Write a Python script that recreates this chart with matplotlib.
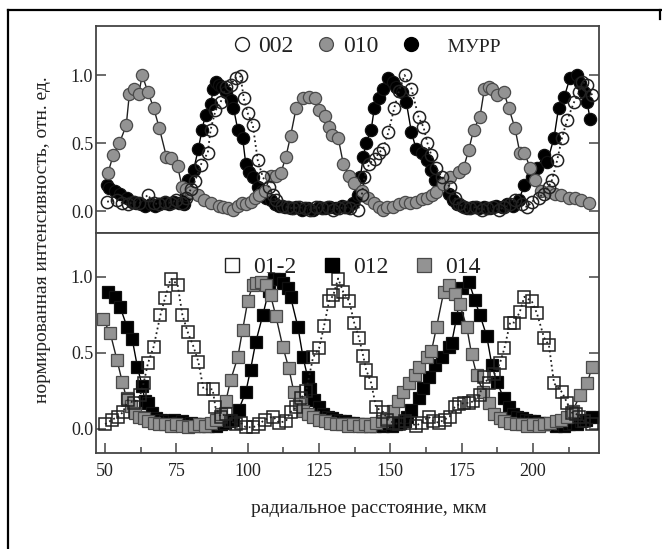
#!/usr/bin/env python3
"""Normalized intensity profiles vs radial distance (two stacked panels)."""
import matplotlib

matplotlib.use("Agg")
import matplotlib.pyplot as plt
from matplotlib.lines import Line2D
from matplotlib.ticker import MultipleLocator

plt.rcParams["font.family"] = ["Liberation Serif", "DejaVu Serif"]

# ---- top panel: 002 (open circles), 010 (grey circles), МУРР (black circles)
X_010 = [51, 52.8, 55, 57.4, 58.5, 60.2, 61.8, 63, 65, 67, 69, 71.5, 73, 75.4, 77, 78.5,
         80, 82.4, 84.5, 87, 89.8, 91.5, 93, 95, 96.5, 98, 99.5, 101, 102.5, 104, 106,
         108, 110, 111.6, 113.4, 115, 117, 119.4, 121.5, 123.6, 125, 127, 128.5, 129.5,
         131.7, 133.5, 135.6, 137.3, 140, 142, 144.4, 146, 147.5, 149, 151, 153, 155,
         157, 159, 161, 163, 164.5, 166, 168.6, 170.8, 174, 175.7, 177.5, 179.2, 181.4,
         183, 184.6, 185.6, 187.3, 189.8, 191.5, 193.7, 195.4, 197, 199, 200.7, 203,
         205.6, 207.7, 210, 212.7, 214.8, 217, 219.7]
Y_010 = [0.28, 0.41, 0.50, 0.63, 0.86, 0.90, 0.86, 1.00, 0.875, 0.76, 0.61, 0.40, 0.39,
         0.33, 0.18, 0.16, 0.14, 0.12, 0.08, 0.06, 0.04, 0.03, 0.02, 0.01, 0.04, 0.06,
         0.05, 0.07, 0.10, 0.12, 0.15, 0.26, 0.26, 0.28, 0.40, 0.55, 0.76, 0.83, 0.84,
         0.83, 0.74, 0.70, 0.62, 0.56, 0.54, 0.35, 0.26, 0.21, 0.15, 0.10, 0.06, 0.03,
         0.01, 0.03, 0.03, 0.05, 0.07, 0.06, 0.07, 0.09, 0.10, 0.12, 0.14, 0.20, 0.25,
         0.29, 0.32, 0.45, 0.60, 0.69, 0.90, 0.91, 0.90, 0.85, 0.875, 0.76, 0.61, 0.43,
         0.43, 0.32, 0.23, 0.15, 0.14, 0.13, 0.12, 0.10, 0.095, 0.08, 0.06]

X_MURR = [50.5, 51.5, 53.5, 55.3, 57.7, 59.5, 61, 62.5, 64, 66, 67.5, 69, 71, 72.5, 74, 76,
          77.5, 78.3, 79.2, 81, 82.7, 84, 85.2, 87, 88, 89, 90, 91, 92.3, 94, 95, 96.5,
          98.2, 99.3, 100.4, 102, 103.5, 105, 106.5, 108, 109.5, 111, 113, 115, 117, 119,
          121, 123, 125, 127, 129, 131, 133, 135, 137, 138.5, 139.5, 140.5, 141.5, 143.3,
          144.4, 146, 147.5, 149.3, 151, 152, 154, 155.6, 157.4, 159, 161, 162.7, 164.4,
          165.5, 168, 170.4, 172, 173.5, 175, 177, 179, 181, 183, 185, 187, 189, 191, 193,
          195, 197, 199.6, 201.4, 203.9, 205, 207.4, 209, 211, 213, 215.5, 216.5, 218,
          219, 220]
Y_MURR = [0.19, 0.17, 0.15, 0.13, 0.10, 0.07, 0.06, 0.05, 0.04, 0.05, 0.04, 0.05, 0.06,
          0.05, 0.07, 0.06, 0.05, 0.12, 0.23, 0.30, 0.46, 0.60, 0.71, 0.79, 0.90, 0.95,
          0.93, 0.91, 0.875, 0.82, 0.76, 0.60, 0.54, 0.35, 0.29, 0.25, 0.18, 0.15, 0.10,
          0.08, 0.05, 0.04, 0.03, 0.02, 0.03, 0.01, 0.02, 0.01, 0.03, 0.02, 0.03, 0.02,
          0.04, 0.03, 0.06, 0.12, 0.25, 0.40, 0.50, 0.60, 0.76, 0.83, 0.90, 0.98, 0.95,
          0.91, 0.875, 0.80, 0.58, 0.46, 0.43, 0.375, 0.30, 0.23, 0.21, 0.13, 0.08, 0.05,
          0.04, 0.02, 0.03, 0.02, 0.03, 0.02, 0.04, 0.03, 0.05, 0.04, 0.08, 0.19, 0.25,
          0.32, 0.41, 0.36, 0.54, 0.76, 0.84, 0.98, 1.00, 0.94, 0.875, 0.80, 0.68]

X_002 = [50.7, 54, 56, 58, 60, 62, 65, 67, 69, 71, 73, 75, 77, 78.5, 80, 81.5, 83.5, 86,
         87, 88.7, 90.5, 92.3, 94, 95.8, 97.5, 98.6, 100, 101.8, 103.5, 105.3, 107.4,
         108.7, 110, 112, 114, 116, 118, 120, 122, 124, 126, 128, 130, 132, 134, 136,
         138.7, 140, 140.9, 142.6, 144.5, 146, 147.5, 149.3, 151.4, 153, 155, 157.4,
         159.9, 161.6, 163, 164.4, 166, 168, 170.8, 172.5, 174, 176, 178, 180, 182, 184,
         186, 188, 190, 192, 193.7, 196, 198, 199.6, 202, 203.9, 205.5, 206.7, 208.5,
         210.2, 212, 214.4, 216.2, 217.3, 219, 220.8]
Y_002 = [0.07, 0.08, 0.06, 0.05, 0.07, 0.06, 0.12, 0.06, 0.05, 0.07, 0.06, 0.08, 0.06,
         0.10, 0.16, 0.22, 0.34, 0.43, 0.60, 0.74, 0.80, 0.91, 0.93, 0.98, 0.99, 0.83,
         0.72, 0.63, 0.375, 0.25, 0.18, 0.12, 0.08, 0.04, 0.03, 0.02, 0.03, 0.02, 0.01,
         0.03, 0.02, 0.03, 0.01, 0.02, 0.03, 0.02, 0.01, 0.12, 0.25, 0.35, 0.38, 0.43,
         0.46, 0.58, 0.76, 0.88, 1.00, 0.90, 0.69, 0.62, 0.50, 0.41, 0.32, 0.25, 0.18,
         0.10, 0.05, 0.03, 0.02, 0.03, 0.01, 0.02, 0.03, 0.01, 0.03, 0.05, 0.08, 0.05,
         0.03, 0.07, 0.10, 0.13, 0.18, 0.23, 0.375, 0.54, 0.67, 0.80, 0.875, 0.95, 0.93,
         0.85]

# ---- bottom panel: 01-2 (open squares), 012 (black squares), 014 (grey squares)
X_01M2 = [50, 52.5, 54.6, 56.3, 58, 60, 62.3, 63.5, 65, 67, 69.4, 71, 73, 75.4, 77.1,
          78.9, 81, 82.7, 84.5, 87.7, 88.7, 90.5, 92.5, 94, 96, 97.5, 99.3, 102, 104, 106,
          108.8, 111, 113.4, 115, 117, 118.7, 120.5, 122.9, 125, 126.8, 128.5, 130, 131.7,
          133.5, 135.6, 137.3, 139, 140.5, 141.5, 143.3, 145, 147.5, 149, 151, 153, 155,
          157, 159, 161, 163.4, 165, 167, 169, 170.8, 172.5, 174, 176, 177.5, 179, 181.4,
          182.7, 184.5, 186.5, 188.4, 190, 192, 193.5, 195.4, 197, 199.6, 201.4, 203.9,
          205.6, 207.4, 210.2, 212, 213.7, 215, 216.2, 218, 220.8]
Y_01M2 = [0.03, 0.06, 0.08, 0.11, 0.19, 0.17, 0.22, 0.30, 0.43, 0.54, 0.75, 0.86, 0.99,
          0.95, 0.75, 0.64, 0.54, 0.44, 0.26, 0.26, 0.14, 0.08, 0.10, 0.05, 0.03, 0.04,
          0.01, 0.01, 0.03, 0.06, 0.08, 0.04, 0.05, 0.11, 0.14, 0.20, 0.25, 0.47, 0.53,
          0.68, 0.84, 0.88, 0.99, 0.90, 0.84, 0.70, 0.60, 0.48, 0.39, 0.30, 0.14, 0.11,
          0.06, 0.04, 0.03, 0.05, 0.04, 0.02, 0.04, 0.08, 0.05, 0.04, 0.06, 0.08, 0.14,
          0.16, 0.17, 0.17, 0.18, 0.22, 0.34, 0.30, 0.36, 0.43, 0.53, 0.70, 0.70, 0.77,
          0.87, 0.84, 0.76, 0.60, 0.55, 0.30, 0.24, 0.17, 0.105, 0.10, 0.08, 0.05, 0.03]

X_012 = [51, 53.5, 55.3, 57.7, 59.5, 61.3, 63, 64, 65, 66.5, 68, 69.5, 71, 72.5, 74, 75.5,
         77, 78.5, 80, 81.5, 83, 84.5, 86, 87.5, 89, 90.5, 92, 93.5, 95, 96.8, 99.3, 101,
         102.8, 105.3, 107.4, 109.2, 111, 112.5, 114, 115, 117.6, 119.4, 121, 122, 123.2,
         125, 126.5, 128, 129.5, 131, 132.5, 134, 135.5, 137, 138.5, 140, 141.5, 143,
         144.5, 146, 147.5, 149, 150.5, 152, 153.5, 155, 156, 157.4, 159.9, 161.6, 163.7,
         165.5, 168, 170.4, 171.5, 173.2, 175, 177.5, 179.6, 181.4, 183.8, 185.6, 187.3,
         189.8, 191.5, 193, 194.5, 196, 197.5, 199, 200.5, 202, 203.5, 205, 206.5, 208,
         209.5, 211, 212.5, 214, 215.5, 217, 218.5, 220.8]
Y_012 = [0.90, 0.87, 0.80, 0.67, 0.59, 0.41, 0.28, 0.18, 0.17, 0.105, 0.07, 0.06, 0.05,
         0.05, 0.06, 0.04, 0.05, 0.03, 0.04, 0.03, 0.02, 0.03, 0.02, 0.03, 0.02, 0.03,
         0.04, 0.05, 0.06, 0.125, 0.24, 0.39, 0.57, 0.75, 0.91, 0.99, 0.99, 0.96, 0.93,
         0.87, 0.67, 0.47, 0.34, 0.26, 0.19, 0.14, 0.10, 0.08, 0.07, 0.06, 0.05, 0.05,
         0.04, 0.04, 0.03, 0.02, 0.03, 0.02, 0.02, 0.03, 0.02, 0.03, 0.02, 0.03, 0.04,
         0.05, 0.08, 0.125, 0.20, 0.27, 0.34, 0.42, 0.47, 0.54, 0.565, 0.73, 0.93, 0.97,
         0.85, 0.75, 0.61, 0.42, 0.31, 0.20, 0.14, 0.10, 0.08, 0.07, 0.06, 0.05, 0.05,
         0.04, 0.04, 0.03, 0.03, 0.02, 0.03, 0.02, 0.03, 0.04, 0.03, 0.05, 0.06, 0.08]

X_014 = [49.3, 51.8, 54.2, 56, 57.5, 59, 60.6, 62, 63.5, 65, 67, 69, 71, 73, 75, 77, 79,
         81, 83, 85, 87, 89, 90.5, 92.3, 94, 96.5, 98.2, 100, 101.8, 103, 104.6, 106.3,
         108, 109.9, 112.3, 114.4, 116.2, 118, 119.5, 121, 123, 125, 127, 129, 131, 133,
         135, 137, 139, 141, 143, 145, 147, 149, 151, 152.8, 154.6, 156.7, 158.5, 160.2,
         162.7, 164.4, 166.2, 168.7, 170.4, 172.5, 174.3, 176.8, 178.5, 180.3, 182.5,
         184.5, 186.5, 188.4, 190, 192, 194, 196, 198, 200, 202, 204, 206, 208, 210, 212,
         214, 216.5, 219, 220.8]
Y_014 = [0.72, 0.63, 0.45, 0.31, 0.20, 0.15, 0.105, 0.08, 0.07, 0.05, 0.04, 0.03, 0.03,
         0.02, 0.03, 0.02, 0.01, 0.02, 0.03, 0.02, 0.04, 0.06, 0.10, 0.18, 0.32, 0.47,
         0.65, 0.84, 0.95, 0.96, 0.97, 0.95, 0.88, 0.74, 0.54, 0.40, 0.24, 0.16, 0.12,
         0.10, 0.08, 0.06, 0.05, 0.04, 0.03, 0.03, 0.02, 0.03, 0.02, 0.03, 0.02, 0.04,
         0.05, 0.07, 0.12, 0.18, 0.24, 0.30, 0.355, 0.41, 0.47, 0.51, 0.67, 0.90, 0.95,
         0.89, 0.82, 0.67, 0.49, 0.355, 0.24, 0.17, 0.10, 0.07, 0.05, 0.04, 0.03, 0.03,
         0.02, 0.03, 0.02, 0.03, 0.04, 0.05, 0.06, 0.08, 0.12, 0.22, 0.30, 0.41]

X_TICKS = [50, 75, 100, 125, 150, 175, 200]
Y_TICKS = [0.0, 0.5, 1.0]

TXT = "#222222"
SPINE = "#444444"
GREY = "#939393"


def style_axes(ax, show_x):
    ax.set_xlim(46.8, 223.2)
    ax.set_yticks(Y_TICKS)
    ax.set_yticklabels([f"{v:.1f}" for v in Y_TICKS])
    ax.tick_params(axis="y", which="both", direction="in", left=True, right=True,
                   length=7, width=1.1, color=SPINE, labelsize=13, labelcolor=TXT, pad=2)
    if show_x:
        ax.set_xticks(X_TICKS)
        ax.xaxis.set_minor_locator(MultipleLocator(12.5))
        ax.tick_params(axis="x", which="major", direction="in", length=7, width=1.1,
                       color=SPINE, labelsize=13, labelcolor=TXT, pad=7,
                       top=False, bottom=True)
        ax.tick_params(axis="x", which="minor", direction="in", length=4, width=1.1,
                       color=SPINE, top=False, bottom=True)
    else:
        ax.tick_params(axis="x", which="both", bottom=False, top=False,
                       labelbottom=False)
    for s in ax.spines.values():
        s.set_color(SPINE)
        s.set_linewidth(1.3)


def plot_top(ax):
    ms = 8.8
    ax.plot(X_MURR, Y_MURR, "-", color="black", lw=1.0, marker="o", ms=ms,
            mfc="black", mec="#111111", mew=0.9, zorder=3)
    ax.plot(X_010, Y_010, "-", color="#222222", lw=1.0, marker="o", ms=ms,
            mfc=GREY, mec="#4a4a4a", mew=0.9, zorder=4)
    ax.plot(X_002, Y_002, ":", color="#222222", lw=1.3, marker="o", ms=ms,
            mfc="none", mec="#222222", mew=1.1, zorder=5)
    ax.set_ylim(-0.16, 1.36)

    handles = [
        Line2D([], [], ls="none", marker="o", ms=10, mfc="white", mec="#222222", mew=1.0),
        Line2D([], [], ls="none", marker="o", ms=10, mfc=GREY, mec="#4a4a4a", mew=0.9),
        Line2D([], [], ls="none", marker="o", ms=10, mfc="black", mec="black"),
    ]
    leg = ax.legend(handles, ["002", "010", "    МУРР"], loc="center",
                    bbox_to_anchor=(0.535, 0.90), ncol=3, frameon=False,
                    fontsize=17, handletextpad=0.2, columnspacing=0.9,
                    handlelength=1.0, borderaxespad=0)
    for t in leg.get_texts():
        t.set_color(TXT)
    leg.get_texts()[2].set_fontsize(14)


def plot_bottom(ax):
    ms = 9.2
    ax.plot(X_012, Y_012, "-", color="black", lw=1.0, marker="s", ms=ms,
            mfc="black", mec="#111111", mew=0.9, zorder=3)
    ax.plot(X_014, Y_014, "-", color="#222222", lw=1.0, marker="s", ms=ms,
            mfc=GREY, mec="#4a4a4a", mew=0.9, zorder=4)
    ax.plot(X_01M2, Y_01M2, ":", color="#222222", lw=1.3, marker="s", ms=ms,
            mfc="none", mec="#222222", mew=1.1, zorder=5)
    ax.set_ylim(-0.16, 1.29)

    handles = [
        Line2D([], [], ls="none", marker="s", ms=10, mfc="white", mec="#222222", mew=1.0),
        Line2D([], [], ls="none", marker="s", ms=10, mfc="black", mec="black"),
        Line2D([], [], ls="none", marker="s", ms=10, mfc=GREY, mec="#4a4a4a", mew=0.9),
    ]
    leg = ax.legend(handles, ["01-2", "012", "014"], loc="center",
                    bbox_to_anchor=(0.505, 0.845), ncol=3, frameon=False,
                    fontsize=17, handletextpad=0.4, columnspacing=1.0,
                    handlelength=1.0, borderaxespad=0)
    for t in leg.get_texts():
        t.set_color(TXT)


def main():
    fig = plt.figure(figsize=(6.62, 5.49), dpi=100)
    ax_top = fig.add_axes([0.145, 0.5756, 0.760, 0.377])
    ax_bot = fig.add_axes([0.145, 0.1749, 0.760, 0.4007])

    plot_top(ax_top)
    plot_bottom(ax_bot)
    style_axes(ax_top, show_x=False)
    style_axes(ax_bot, show_x=True)

    fig.text(0.064, 0.563, "нормированная интенсивность, отн. ед.", rotation=90,
             ha="center", va="center", fontsize=14, color=TXT)
    fig.text(0.557, 0.073, "радиальное расстояние, мкм", ha="center", va="center",
             fontsize=14, color=TXT)

    # page frame (top and left edges of the surrounding box)
    fig.add_artist(Line2D([0.012, 1.0], [0.982, 0.982], color="black", lw=1.6))
    fig.add_artist(Line2D([0.012, 0.012], [0.0, 0.982], color="black", lw=1.6))
    fig.add_artist(Line2D([0.997, 0.997], [0.982, 0.965], color="black", lw=1.6))

    fig.savefig("out.png", dpi=100)


if __name__ == "__main__":
    main()
